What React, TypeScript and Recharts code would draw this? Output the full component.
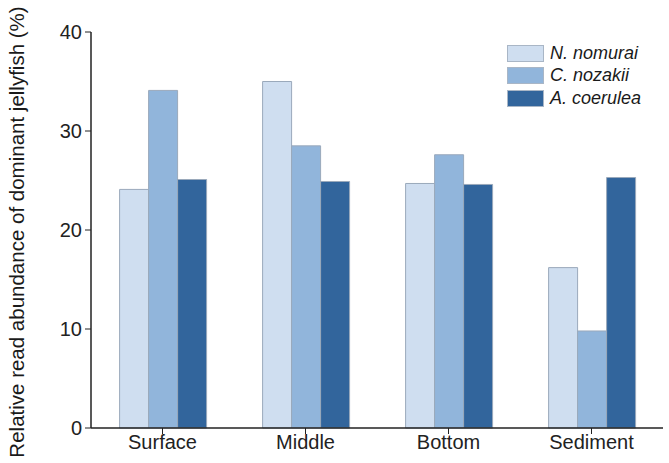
import React from "react";
import { BarChart, Bar, XAxis, YAxis } from "recharts";

const categories = ["Surface", "Middle", "Bottom", "Sediment"];
const nNomurai = [24.1, 35.0, 24.7, 16.2];
const cNozakii = [34.1, 28.5, 27.6, 9.8];
const aCoerulea = [25.1, 24.9, 24.6, 25.3];
const yTicks = [0, 10, 20, 30, 40];

const seriesNames = ["N. nomurai", "C. nozakii", "A. coerulea"];
const seriesKeys = ["n", "c", "a"];
const seriesColors = ["#cfdef0", "#91b5db", "#32659c"];

const data = categories.map((cat, i) => ({
  cat,
  n: nNomurai[i],
  c: cNozakii[i],
  a: aCoerulea[i],
}));

const FONT = "'Liberation Sans', Arial, sans-serif";

const LegendBox = () => (
  <div
    style={{
      position: "absolute",
      left: 507,
      top: 42,
      width: 155,
      fontFamily: FONT,
    }}
  >
    {seriesNames.map((name, i) => (
      <div
        key={name}
        style={{ display: "flex", alignItems: "center", height: 22.5 }}
      >
        <div
          style={{
            width: 37,
            height: 17,
            background: seriesColors[i],
            border: "1px solid #a9b6c6",
            boxSizing: "border-box",
            marginRight: 6,
          }}
        />
        <span style={{ fontStyle: "italic", fontSize: 18, color: "#1a1a1a" }}>
          {name}
        </span>
      </div>
    ))}
  </div>
);

const YLabel = (props: any) => {
  const vb = props.viewBox || {};
  const cy = (vb.y ?? 32) + (vb.height ?? 396) / 2;
  return (
    <text
      x={0}
      y={0}
      transform={`translate(24, ${cy + 2}) rotate(-90)`}
      textAnchor="middle"
      fontFamily={FONT}
      fontSize={20.5}
      fill="#1a1a1a"
    >
      Relative read abundance of dominant jellyfish (%)
    </text>
  );
};

export default function App() {
  return (
    <div
      style={{
        position: "absolute",
        left: 0,
        top: 0,
        width: 669,
        height: 463,
        background: "#fff",
      }}
    >
      <BarChart
        width={669}
        height={463}
        data={data}
        margin={{ top: 32, right: 6, bottom: 0, left: 0 }}
        barCategoryGap="20%"
        barGap={0}
      >
        <XAxis
          dataKey="cat"
          xAxisId="bottom"
          height={35}
          axisLine={{ stroke: "#222", strokeWidth: 1.5 }}
          tickLine={{ stroke: "#222" }}
          tickSize={6}
          tick={{ fontFamily: FONT, fontSize: 20, fill: "#222" }}
          tickMargin={1}
        />
        <XAxis
          dataKey="cat"
          xAxisId="top"
          orientation="top"
          height={0}
          axisLine={{ stroke: "#222", strokeWidth: 1.5 }}
          tick={false}
          tickLine={false}
        />
        <YAxis
          yAxisId="left"
          width={91}
          domain={[0, 40]}
          ticks={yTicks}
          axisLine={{ stroke: "#222", strokeWidth: 1.5 }}
          tickLine={{ stroke: "#222" }}
          tickSize={6}
          tick={{ fontFamily: FONT, fontSize: 20, fill: "#222" }}
          tickMargin={3}
          label={<YLabel />}
        />
        <YAxis
          yAxisId="right"
          orientation="right"
          width={0}
          domain={[0, 40]}
          axisLine={{ stroke: "#222", strokeWidth: 1.5 }}
          tick={false}
          tickLine={false}
        />
        {seriesKeys.map((k, i) => (
          <Bar
            key={k}
            dataKey={k}
            name={seriesNames[i]}
            xAxisId="bottom"
            yAxisId="left"
            fill={seriesColors[i]}
            stroke="#9aa9bb"
            strokeWidth={1}
            isAnimationActive={false}
          />
        ))}
      </BarChart>
      <LegendBox />
    </div>
  );
}
